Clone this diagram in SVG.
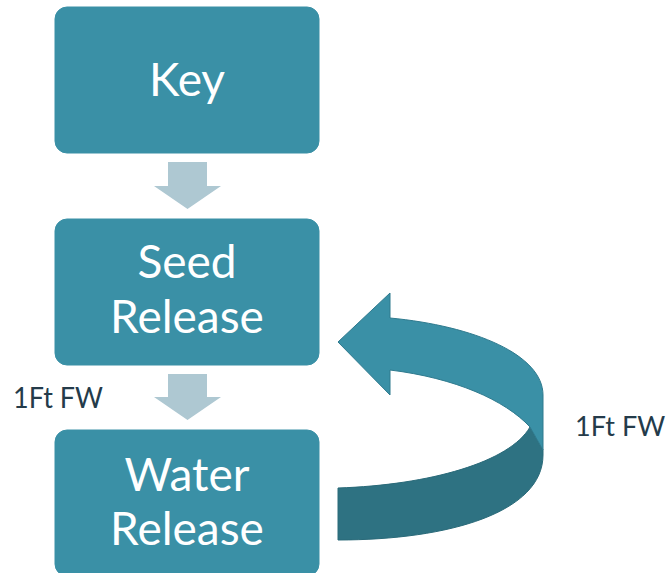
<svg xmlns="http://www.w3.org/2000/svg" width="668" height="573" viewBox="0 0 668 573">
<defs>
<style>
.box{fill:#3A90A6;stroke:#3A90A6;stroke-width:1}
.t{font-family:Lato,"Open Sans","Liberation Sans",sans-serif;fill:#FFFFFF;font-size:46px;text-anchor:middle}
.lbl{font-family:Lato,"Open Sans","Liberation Sans",sans-serif;fill:#243B4A;font-size:29px}
.down{fill:#AEC8D2}
.light{fill:#3A90A6;stroke:#2F7A8E;stroke-width:1}
.dark{fill:#2E7282;stroke:#2A6A79;stroke-width:1}
</style>
</defs>
<rect width="668" height="573" fill="#FFFFFF"/>
<g id="connectors">
<polygon class="down" points="168,162 207,162 207,186 221,186 187.5,209 154,186 168,186"/>
<polygon class="down" points="168,374 207,374 207,397 221,397 187.5,420 154,397 168,397"/>
<g id="loop-arrow">
<path class="dark" d="M338,488 C430,485 510,462 530,427 L543,450 L543,455 C543,512 450,540 338,540 Z"/>
<path class="light" d="M338,342 L390,293 L390,318 C475,326 543,355 543,395 L543,450 L530,427 C505,400 455,378 390,370 L390,395 Z"/>
</g>
</g>
<g id="key">
<rect class="box" x="55" y="7" width="264" height="146" rx="12"/>
<text class="t" x="187" y="96">Key</text>
</g>
<g id="seed-release">
<rect class="box" x="55" y="219" width="264" height="146" rx="12"/>
<text class="t" x="187" y="278">Seed</text>
<text class="t" x="187" y="333">Release</text>
</g>
<g id="water-release">
<rect class="box" x="55" y="430" width="264" height="146" rx="12"/>
<text class="t" x="187" y="491">Water</text>
<text class="t" x="187" y="545">Release</text>
</g>
<g id="labels">
<text class="lbl" x="13" y="408" textLength="90" lengthAdjust="spacingAndGlyphs">1Ft FW</text>
<text class="lbl" x="575" y="436" style="font-size:27px">1Ft FW</text>
</g>
</svg>
